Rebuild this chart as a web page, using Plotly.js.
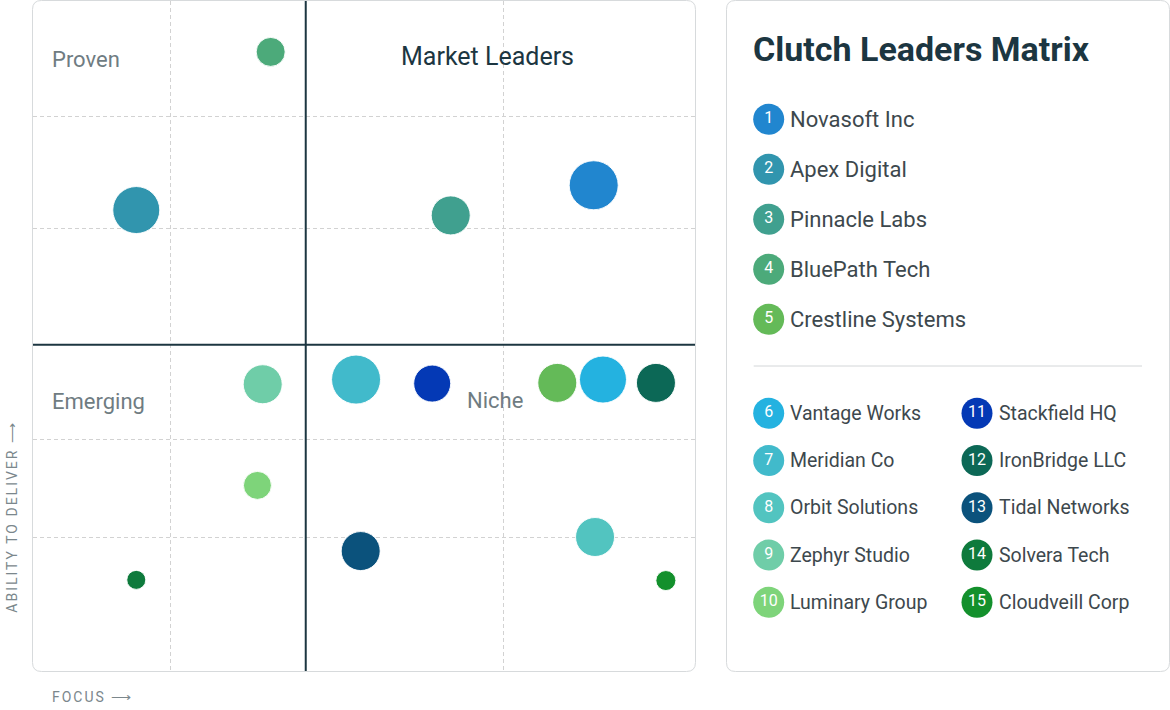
<!DOCTYPE html>
<html><head><meta charset="utf-8">
<script src="https://cdn.plot.ly/plotly-3.0.1.min.js"></script>
<style>html,body{margin:0;padding:0;background:#fff}#chart{width:1170px;height:710px}</style>
</head><body><div id="chart"></div>
<script>
// ---------- data ----------
const companies = ["Novasoft Inc","Apex Digital","Pinnacle Labs","BluePath Tech","Crestline Systems",
  "Vantage Works","Meridian Co","Orbit Solutions","Zephyr Studio","Luminary Group",
  "Stackfield HQ","IronBridge LLC","Tidal Networks","Solvera Tech","Cloudveill Corp"];
const focus   = [84.7, 15.6, 63.1, 35.9, 79.2, 86.1, 48.8, 84.9, 34.7, 33.9, 60.3, 94.1, 49.5, 15.6, 95.6];
const ability = [72.5, 68.8, 68.0, 92.4, 43.0, 43.5, 43.5, 20.0, 42.8, 27.7, 42.9, 43.0, 17.9, 13.6, 13.5];
const bubbleSize = [49, 47, 39, 29, 39, 47, 49, 39, 39, 28, 37, 39, 39, 19, 20];
const colors = ["#2186cf","#3195ae","#40a08f","#4caa7a","#64ba58",
  "#24b2e0","#41bacb","#52c4c0","#6fcda8","#7ed47a",
  "#0439b5","#0c6856","#0b527c","#0e7a3c","#13902c"];
const quadrantNames = ["Proven","Market Leaders","Emerging","Niche"];
const focusThreshold = 41.2, abilityThreshold = 48.7;
const focusGrid = [20.8, 71.0];
const abilityGrid = [20.0, 34.5, 66.0, 82.8];
const chartTitle = "Clutch Leaders Matrix";
const xLabel = "FOCUS \u27F6", yLabel = "ABILITY TO DELIVER \u27F6";

// ---------- layout helpers ----------
const W = 1170, H = 710;
const FONT = "Roboto, 'Open Sans', sans-serif";
const DARK = "#1c3641", GREY = "#6f7c82", TEXT = "#3d484d", BORDER = "#d7dadc";
const plotBox = {l:33, r:695, t:1, b:671};
const panelBox = {l:727, r:1169, t:1, b:671};
const px = v => v / W, py = v => 1 - v / H;
function roundRect(x0, y0, x1, y1, r) {
  const X = v => px(v).toFixed(5), Y = v => py(v).toFixed(5);
  return `M${X(x0+r)},${Y(y0)} L${X(x1-r)},${Y(y0)} Q${X(x1)},${Y(y0)} ${X(x1)},${Y(y0+r)} ` +
         `L${X(x1)},${Y(y1-r)} Q${X(x1)},${Y(y1)} ${X(x1-r)},${Y(y1)} L${X(x0+r)},${Y(y1)} ` +
         `Q${X(x0)},${Y(y1)} ${X(x0)},${Y(y1-r)} L${X(x0)},${Y(y0+r)} Q${X(x0)},${Y(y0)} ${X(x0+r)},${Y(y0)} Z`;
}

// legend positions (panel-local pixel units)
const badgeX = [], badgeY = [], labelX = [], labelSize = [];
companies.forEach((c, i) => {
  if (i < 5) { badgeX.push(41.7); badgeY.push(118.3 + i * 50); labelX.push(61.3); labelSize.push(22); }
  else {
    const col = Math.floor((i - 5) / 5), row = (i - 5) % 5;
    badgeX.push(41.7 + col * 208.3); badgeY.push(412.3 + row * 47.25);
    labelX.push(61.3 + col * 208.3); labelSize.push(19.5);
  }
});

const traces = [
  {
    type: "scatter", mode: "markers", x: focus, y: ability, text: companies,
    hovertemplate: "%{text}<extra></extra>",
    marker: {size: bubbleSize, sizemode: "diameter", color: colors, opacity: 1,
             line: {color: "rgba(255,255,255,0.9)", width: 1}},
    cliponaxis: false, showlegend: false
  },
  {
    type: "scatter", mode: "markers+text", xaxis: "x2", yaxis: "y2",
    x: badgeX, y: badgeY, text: companies.map((c, i) => String(i + 1)),
    textposition: "middle center", textfont: {family: FONT, size: 16, color: "#ffffff"},
    marker: {size: 31, color: colors, line: {width: 0}},
    hoverinfo: "skip", showlegend: false, cliponaxis: false
  }
];

const annotations = [];
// quadrant labels
const qPos = [
  {x: 2.6, y: 91.3, xanchor: "left", size: 22, color: GREY},
  {x: 68.7, y: 91.7, xanchor: "center", size: 25, color: DARK},
  {x: 2.6, y: 40.25, xanchor: "left", size: 22, color: GREY},
  {x: 69.8, y: 40.3, xanchor: "center", size: 22, color: GREY}
];
quadrantNames.forEach((q, i) => annotations.push({
  text: q, xref: "x", yref: "y", x: qPos[i].x, y: qPos[i].y, xanchor: qPos[i].xanchor, yanchor: "middle",
  showarrow: false, font: {family: FONT, size: qPos[i].size, color: qPos[i].color}
}));
// panel title
annotations.push({text: chartTitle, xref: "x2", yref: "y2", x: 24, y: 48.3, xanchor: "left", yanchor: "middle",
  showarrow: false, font: {family: FONT, size: 34, weight: 700, color: DARK}});
// legend labels
companies.forEach((c, i) => annotations.push({
  text: c, xref: "x2", yref: "y2", x: labelX[i], y: badgeY[i], xanchor: "left", yanchor: "middle",
  showarrow: false, font: {family: FONT, size: labelSize[i], color: TEXT}
}));
// axis labels
const xLabIdx = annotations.length;
annotations.push({text: xLabel, xref: "paper", yref: "paper", x: px(50), y: py(696.7), xanchor: "left", yanchor: "middle",
  align: "left", showarrow: false, font: {family: FONT, size: 14, color: "#7b878c"}});
const yLabIdx = annotations.length;
annotations.push({text: yLabel, xref: "paper", yref: "paper", x: px(12), y: py(516.7), xanchor: "center", yanchor: "middle",
  textangle: -90, showarrow: false, font: {family: FONT, size: 14, color: "#7b878c"}});

const style = document.createElement("style");
style.textContent = `g.annotation[data-index="${xLabIdx}"] text, g.annotation[data-index="${yLabIdx}"] text{letter-spacing:2px}`;
document.head.appendChild(style);

const shapes = [
  {type: "path", xref: "paper", yref: "paper", path: roundRect(32.5, 0.5, 695.5, 671.5, 9),
   line: {color: BORDER, width: 1}, fillcolor: "rgba(0,0,0,0)", layer: "below"},
  {type: "path", xref: "paper", yref: "paper", path: roundRect(726.5, 0.5, 1169.5, 671.5, 9),
   line: {color: BORDER, width: 1}, fillcolor: "rgba(0,0,0,0)", layer: "below"},
  {type: "line", xref: "x", yref: "y", x0: focusThreshold, x1: focusThreshold, y0: 0, y1: 100,
   line: {color: DARK, width: 2}, layer: "above"},
  {type: "line", xref: "x", yref: "y", x0: 0, x1: 100, y0: abilityThreshold, y1: abilityThreshold,
   line: {color: DARK, width: 2}, layer: "above"},
  {type: "line", xref: "x2", yref: "y2", x0: 26.7, x1: 415, y0: 365, y1: 365,
   line: {color: "#d3d6d8", width: 1}}
];

const gridAxis = {showgrid: true, griddash: "4px,3px", gridcolor: "#d2d2d2", gridwidth: 1,
  zeroline: false, showline: false, ticks: "", showticklabels: false, fixedrange: true, tickmode: "array"};

const layout = {
  width: W, height: H, margin: {l: 0, r: 0, t: 0, b: 0},
  paper_bgcolor: "#ffffff", plot_bgcolor: "rgba(0,0,0,0)",
  font: {family: FONT},
  xaxis: Object.assign({}, gridAxis, {domain: [px(plotBox.l), px(plotBox.r)], range: [0, 100], tickvals: focusGrid}),
  yaxis: Object.assign({}, gridAxis, {domain: [py(plotBox.b), py(plotBox.t)], range: [0, 100], tickvals: abilityGrid}),
  xaxis2: {domain: [px(panelBox.l), px(panelBox.r)], range: [0, 442], visible: false, anchor: "y2", fixedrange: true},
  yaxis2: {domain: [py(panelBox.b), py(panelBox.t)], range: [670, 0], visible: false, anchor: "x2", fixedrange: true},
  shapes: shapes, annotations: annotations, showlegend: false, hovermode: "closest"
};

Plotly.newPlot("chart", traces, layout, {displayModeBar: false, responsive: false});
</script></body></html>
